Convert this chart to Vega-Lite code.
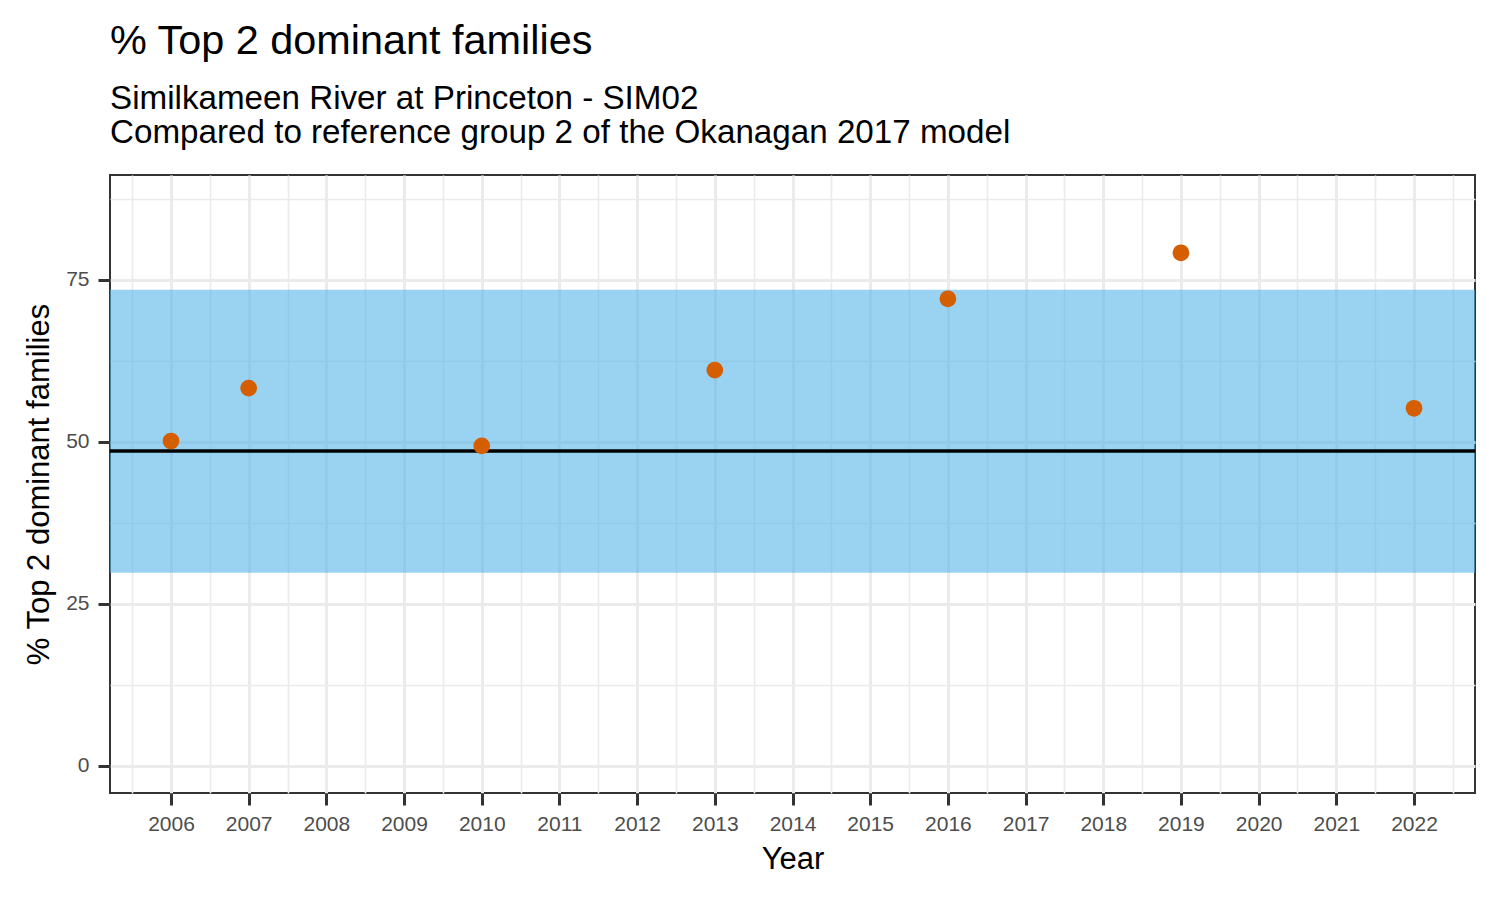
{
  "$schema": "https://vega.github.io/schema/vega-lite/v6.json",
  "width": 1365,
  "height": 618,
  "autosize": {"type": "none"},
  "padding": {"left": 110, "top": 175, "right": 25, "bottom": 107},
  "background": "white",
  "title": {
    "text": "% Top 2 dominant families",
    "subtitle": ["Similkameen River at Princeton - SIM02", "Compared to reference group 2 of the Okanagan 2017 model"],
    "anchor": "start",
    "frame": "group",
    "font": "Liberation Sans",
    "fontSize": 41.4,
    "fontWeight": "normal",
    "color": "black",
    "subtitleFont": "Liberation Sans",
    "subtitleFontSize": 33.2,
    "subtitleColor": "black",
    "subtitlePadding": 20,
    "subtitleLineHeight": 34,
    "offset": 26
  },
  "config": {
    "view": {"stroke": "#333333", "strokeWidth": 2},
    "axis": {
      "domain": false,
      "gridColor": "#EBEBEB",
      "tickColor": "#333333",
      "tickWidth": 3,
      "tickSize": 12,
      "labelFont": "Liberation Sans",
      "labelFontSize": 21,
      "labelColor": "#4D4D4D",
      "labelPadding": 8,
      "titleFont": "Liberation Sans",
      "titleFontSize": 31,
      "titleFontWeight": "normal",
      "titleColor": "black"
    }
  },
  "datasets": {
    "points": [
      {"year": 2006, "value": 50.15},
      {"year": 2007, "value": 58.3},
      {"year": 2010, "value": 49.4},
      {"year": 2013, "value": 61.1},
      {"year": 2016, "value": 72.1},
      {"year": 2019, "value": 79.2},
      {"year": 2022, "value": 55.2}
    ],
    "band": [{"lower": 29.8, "upper": 73.5, "median": 48.6}]
  },
  "layer": [
    {
      "data": {"name": "band"},
      "mark": {"type": "rect", "color": "#56B4E9", "opacity": 0.6},
      "encoding": {
        "y": {
          "field": "lower",
          "type": "quantitative",
          "scale": {"domain": [-4.17, 91.2], "nice": false, "zero": false},
          "axis": {
            "title": "% Top 2 dominant families",
            "values": [0, 12.5, 25, 37.5, 50, 62.5, 75, 87.5],
            "labelExpr": "datum.value % 25 === 0 ? format(datum.value, 'd') : ''",
            "gridWidth": {"condition": {"test": "datum.value % 25 !== 0", "value": 1.6}, "value": 3},
            "tickOpacity": {"condition": {"test": "datum.value % 25 !== 0", "value": 0}, "value": 1},
            "labelPadding": 9,
            "titlePadding": 10
          }
        },
        "y2": {"field": "upper"}
      }
    },
    {
      "data": {"name": "band"},
      "mark": {"type": "rule", "color": "black", "strokeWidth": 3.5},
      "encoding": {"y": {"field": "median", "type": "quantitative"}}
    },
    {
      "data": {"name": "points"},
      "mark": {"type": "circle", "color": "#D55E00", "opacity": 1, "size": 280},
      "encoding": {
        "x": {
          "field": "year",
          "type": "quantitative",
          "scale": {"domain": [2005.215, 2022.785], "nice": false, "zero": false},
          "axis": {
            "title": "Year",
            "values": [2005.5, 2006, 2006.5, 2007, 2007.5, 2008, 2008.5, 2009, 2009.5, 2010, 2010.5, 2011, 2011.5, 2012, 2012.5, 2013, 2013.5, 2014, 2014.5, 2015, 2015.5, 2016, 2016.5, 2017, 2017.5, 2018, 2018.5, 2019, 2019.5, 2020, 2020.5, 2021, 2021.5, 2022, 2022.5],
            "labelExpr": "datum.value % 1 === 0 ? format(datum.value, 'd') : ''",
            "gridWidth": {"condition": {"test": "datum.value % 1 !== 0", "value": 1.6}, "value": 3},
            "tickOpacity": {"condition": {"test": "datum.value % 1 !== 0", "value": 0}, "value": 1},
            "titlePadding": 10
          }
        },
        "y": {"field": "value", "type": "quantitative"}
      }
    }
  ]
}
